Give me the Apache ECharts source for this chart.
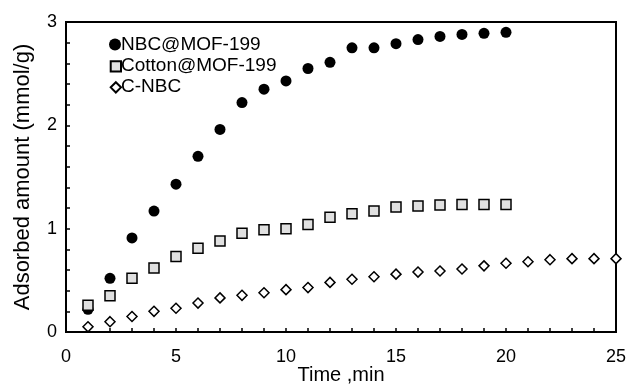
<!DOCTYPE html>
<html>
<head>
<meta charset="utf-8">
<script src="https://cdn.jsdelivr.net/npm/echarts@6/dist/echarts.min.js"></script>
<style>
html,body{margin:0;padding:0;background:#fff;}
#c{width:629px;height:387px;}
</style>
</head>
<body>
<div id="c"></div>
<script>
const seriesNames = ['NBC@MOF-199', 'Cotton@MOF-199', 'C-NBC'];
const timeNBC = [1,2,3,4,5,6,7,8,9,10,11,12,13,14,15,16,17,18,19,20];
const nbcMOF = [0.22,0.52,0.91,1.17,1.43,1.70,1.96,2.22,2.35,2.43,2.55,2.61,2.75,2.75,2.79,2.83,2.86,2.88,2.89,2.90];
const timeCotton = [1,2,3,4,5,6,7,8,9,10,11,12,13,14,15,16,17,18,19,20];
const cottonMOF = [0.26,0.35,0.52,0.62,0.73,0.81,0.88,0.955,0.99,1.00,1.04,1.11,1.145,1.17,1.21,1.22,1.23,1.235,1.235,1.235];
const timeCNBC = [1,2,3,4,5,6,7,8,9,10,11,12,13,14,15,16,17,18,19,20,21,22,23,24,25];
const cNBC = [0.05,0.10,0.15,0.20,0.23,0.28,0.33,0.355,0.38,0.41,0.43,0.48,0.51,0.535,0.56,0.58,0.59,0.61,0.64,0.665,0.68,0.70,0.71,0.71,0.71];
const xTicks = { min: 0, max: 25, interval: 5 };
const yTicks = { min: 0, max: 3, interval: 1 };

function pairs(xs, ys) { return xs.map((x, i) => [x, ys[i]]); }

const FONT = '"Liberation Sans", Arial, sans-serif';
const chart = echarts.init(document.getElementById('c'), null, { renderer: 'canvas' });

const baseX = {
  type: 'value', min: xTicks.min, max: xTicks.max, interval: xTicks.interval,
  splitLine: { show: false }
};
const baseY = {
  type: 'value', min: yTicks.min, max: yTicks.max, interval: yTicks.interval,
  splitLine: { show: false }
};

chart.setOption({
  animation: false,
  backgroundColor: '#fff',
  grid: { left: 66, right: 13, top: 22, bottom: 55, show: true, borderColor: '#000', borderWidth: 2, backgroundColor: 'transparent', containLabel: false, outerBoundsMode: 'none' },
  legend: {
    orient: 'vertical', left: 103, top: 30, itemGap: 2,
    itemWidth: 12, itemHeight: 12,
    textStyle: { fontFamily: FONT, fontSize: 19, color: '#000', padding: [0, 0, 0, -5] },
    data: [
      { name: seriesNames[0], icon: 'circle' },
      { name: seriesNames[1], icon: 'path://M0,0M1.5,1.5h9v9h-9z' },
      { name: seriesNames[2], icon: 'path://M0,0M6,1.5L10.5,6L6,10.5L1.5,6z' }
    ]
  },
  xAxis: [
    Object.assign({}, baseX, {
      name: 'Time ,min', nameLocation: 'middle', nameGap: 33, nameMoveOverlap: false,
      nameTextStyle: { fontFamily: FONT, fontSize: 20, color: '#000' },
      axisLine: { show: true, lineStyle: { color: '#000', width: 2 } },
      axisTick: { show: true, inside: true, length: 4, lineStyle: { color: '#000', width: 1.5 } },
      minorTick: { show: true, splitNumber: 5, length: 4, lineStyle: { color: '#000', width: 1.5 } },
      axisLabel: { margin: 16, fontFamily: FONT, fontSize: 18, color: '#000' }
    }),
    Object.assign({}, baseX, {
      axisLine: { show: false },
      axisTick: { show: true, inside: false, length: 4, lineStyle: { color: '#000', width: 1.5 } },
      axisLabel: { show: false }
    })
  ],
  yAxis: [
    Object.assign({}, baseY, {
      name: 'Adsorbed amount (mmol/g)', nameLocation: 'middle', nameGap: 32, nameMoveOverlap: false,
      nameTextStyle: { fontFamily: FONT, fontSize: 22, color: '#000' },
      axisLine: { show: true, lineStyle: { color: '#000', width: 2 } },
      axisTick: { show: true, inside: true, length: 4, lineStyle: { color: '#000', width: 1.5 } },
      minorTick: { show: true, splitNumber: 5, length: 4, lineStyle: { color: '#000', width: 1.5 } },
      axisLabel: { margin: 9, fontFamily: FONT, fontSize: 18, color: '#000' }
    }),
    Object.assign({}, baseY, {
      axisLine: { show: false },
      axisTick: { show: true, inside: false, length: 4, lineStyle: { color: '#000', width: 1.5 } },
      axisLabel: { show: false }
    })
  ],
  series: [
    {
      name: seriesNames[0], type: 'scatter', symbol: 'circle', symbolSize: 11,
      itemStyle: { color: '#000', borderColor: '#000', borderWidth: 0, opacity: 1 },
      data: pairs(timeNBC, nbcMOF), z: 2
    },
    {
      name: seriesNames[1], type: 'scatter', symbol: 'rect', symbolSize: 10,
      itemStyle: { color: '#e0e0e0', borderColor: '#000', borderWidth: 1.5, opacity: 1 },
      data: pairs(timeCotton, cottonMOF), z: 3
    },
    {
      name: seriesNames[2], type: 'scatter', symbol: 'diamond', symbolSize: [10, 10],
      itemStyle: { color: '#fff', borderColor: '#000', borderWidth: 1.5, opacity: 1 },
      data: pairs(timeCNBC, cNBC), z: 4
    }
  ]
});
</script>
</body>
</html>
